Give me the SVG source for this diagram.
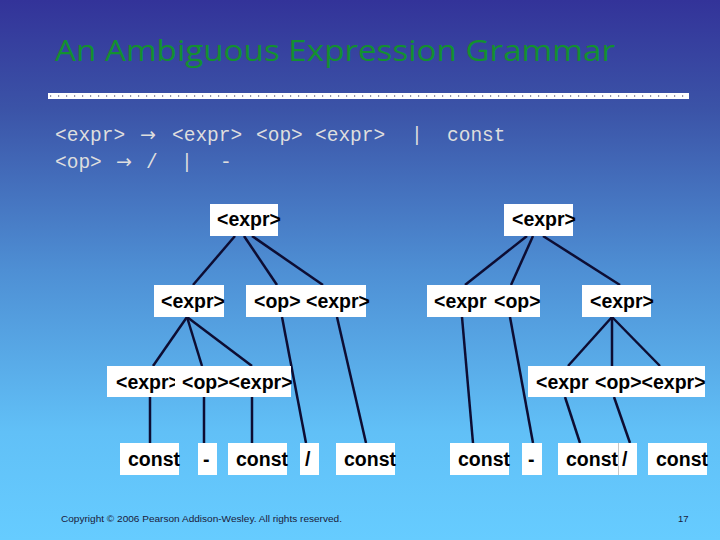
<svg xmlns="http://www.w3.org/2000/svg" width="720" height="540" viewBox="0 0 720 540">
<defs>
<linearGradient id="bg" x1="0" y1="0" x2="0" y2="1">
<stop offset="0" stop-color="#333399"/>
<stop offset="0.2" stop-color="#3b53a7"/>
<stop offset="0.5" stop-color="#4e8fd4"/>
<stop offset="0.8" stop-color="#61c0f7"/>
<stop offset="1" stop-color="#66ccff"/>
</linearGradient>
<style>
.box{fill:#ffffff}
.t{font-family:"Liberation Sans",Arial,sans-serif;font-weight:bold;font-size:19.5px;fill:#000000}
.g{font-family:"Liberation Mono","Courier New",monospace;font-size:19.5px;fill:#dedede}
.ar{font-family:"DejaVu Sans",sans-serif;font-size:19px}
.c line{stroke:#0d0d33;stroke-width:2.5}
</style>
</defs>
<rect width="720" height="540" fill="url(#bg)"/>
<text x="55" y="61" font-family="'Open Sans','DejaVu Sans',sans-serif" font-size="30" fill="#139030" textLength="560" lengthAdjust="spacingAndGlyphs">An Ambiguous Expression Grammar</text>
<rect x="48" y="93" width="641" height="6" fill="#ffffff"/>
<line x1="50" y1="96" x2="689" y2="96" stroke="#333355" stroke-width="1.2" stroke-dasharray="1.2 6.8"/>
<g id="grammar">
<text class="g" y="141"><tspan x="55">&lt;expr&gt;</tspan><tspan class="ar" x="140">→</tspan><tspan x="172">&lt;expr&gt;</tspan><tspan x="256">&lt;op&gt;</tspan><tspan x="315">&lt;expr&gt;</tspan><tspan x="411">|</tspan><tspan x="447">const</tspan></text>
<text class="g" y="168"><tspan x="55">&lt;op&gt;</tspan><tspan class="ar" x="116">→</tspan><tspan x="146">/</tspan><tspan x="181">|</tspan><tspan x="220">-</tspan></text>
</g>
<g id="connectors" class="c">
<line x1="235" y1="236" x2="193" y2="285"/>
<line x1="244" y1="236" x2="277" y2="285"/>
<line x1="252" y1="236" x2="323" y2="285"/>
<line x1="187" y1="317" x2="153" y2="366"/>
<line x1="187" y1="317" x2="202" y2="366"/>
<line x1="187" y1="317" x2="252" y2="366"/>
<line x1="282" y1="317" x2="306" y2="443"/>
<line x1="337" y1="317" x2="366" y2="443"/>
<line x1="150" y1="397" x2="150" y2="443"/>
<line x1="204" y1="397" x2="204" y2="443"/>
<line x1="252" y1="397" x2="252" y2="443"/>
<line x1="527" y1="236" x2="465" y2="285"/>
<line x1="533" y1="236" x2="511" y2="285"/>
<line x1="543" y1="236" x2="620" y2="285"/>
<line x1="462" y1="317" x2="473" y2="443"/>
<line x1="510" y1="317" x2="533" y2="443"/>
<line x1="612" y1="317" x2="568" y2="366"/>
<line x1="612" y1="317" x2="612" y2="366"/>
<line x1="612" y1="317" x2="660" y2="366"/>
<line x1="565" y1="397" x2="580" y2="443"/>
<line x1="614" y1="397" x2="630" y2="443"/>
</g>
<g id="L-root"><rect class="box" x="210" y="204" width="68" height="32"/><text class="t" x="217" y="226">&lt;expr&gt;</text></g>
<g id="L-expr"><rect class="box" x="154" y="285" width="70" height="32"/><text class="t" x="161" y="308">&lt;expr&gt;</text></g>
<g id="L-opexpr"><rect class="box" x="246" y="285" width="120" height="32"/><text class="t" x="254" y="308">&lt;op&gt; &lt;expr&gt;</text></g>
<g id="L-sub"><rect class="box" x="107" y="366" width="184" height="31"/><text class="t" x="116" y="389">&lt;expr&gt;</text><rect class="box" x="175" y="366" width="116" height="31"/><text class="t" x="182" y="389">&lt;op&gt;&lt;expr&gt;</text></g>
<g id="L-c1"><rect class="box" x="120" y="443" width="59" height="32"/><text class="t" x="128" y="466">const</text></g>
<g id="L-minus"><rect class="box" x="198" y="443" width="19" height="32"/><text class="t" x="203" y="466">-</text></g>
<g id="L-c2"><rect class="box" x="228" y="443" width="59" height="32"/><text class="t" x="236" y="466">const</text></g>
<g id="L-div"><rect class="box" x="300" y="443" width="19" height="32"/><text class="t" x="305" y="466">/</text></g>
<g id="L-c3"><rect class="box" x="336" y="443" width="59" height="32"/><text class="t" x="344" y="466">const</text></g>
<g id="R-root"><rect class="box" x="504" y="204" width="69" height="32"/><text class="t" x="512" y="226">&lt;expr&gt;</text></g>
<g id="R-exprop"><rect class="box" x="427" y="285" width="113" height="32"/><text class="t" x="434" y="308">&lt;expr&gt;</text><rect class="box" x="487" y="285" width="53" height="32"/><text class="t" x="494" y="308">&lt;op&gt;</text></g>
<g id="R-expr"><rect class="box" x="582" y="285" width="69" height="32"/><text class="t" x="590" y="308">&lt;expr&gt;</text></g>
<g id="R-sub"><rect class="box" x="528" y="366" width="177" height="31"/><text class="t" x="536" y="389">&lt;expr&gt;</text><rect class="box" x="589" y="366" width="116" height="31"/><text class="t" x="595" y="389">&lt;op&gt;&lt;expr&gt;</text></g>
<g id="R-c1"><rect class="box" x="450" y="443" width="59" height="32"/><text class="t" x="458" y="466">const</text></g>
<g id="R-minus"><rect class="box" x="522" y="443" width="20" height="32"/><text class="t" x="528" y="466">-</text></g>
<g id="R-c2"><rect class="box" x="558" y="443" width="60" height="32"/><text class="t" x="566" y="466">const</text></g>
<g id="R-div"><rect class="box" x="618" y="443" width="19" height="32"/><line x1="618.5" y1="443" x2="618.5" y2="475" stroke="#c8c8c8" stroke-width="1"/><text class="t" x="622" y="466">/</text></g>
<g id="R-c3"><rect class="box" x="648" y="443" width="59" height="32"/><text class="t" x="656" y="466">const</text></g>
<text x="61" y="522" font-family="'Liberation Sans',Arial,sans-serif" font-size="9.5" fill="#1a1a3a" textLength="281" lengthAdjust="spacingAndGlyphs">Copyright © 2006 Pearson Addison-Wesley. All rights reserved.</text>
<text x="678" y="522" font-family="'Liberation Sans',Arial,sans-serif" font-size="9.5" fill="#1a1a3a">17</text>
</svg>
